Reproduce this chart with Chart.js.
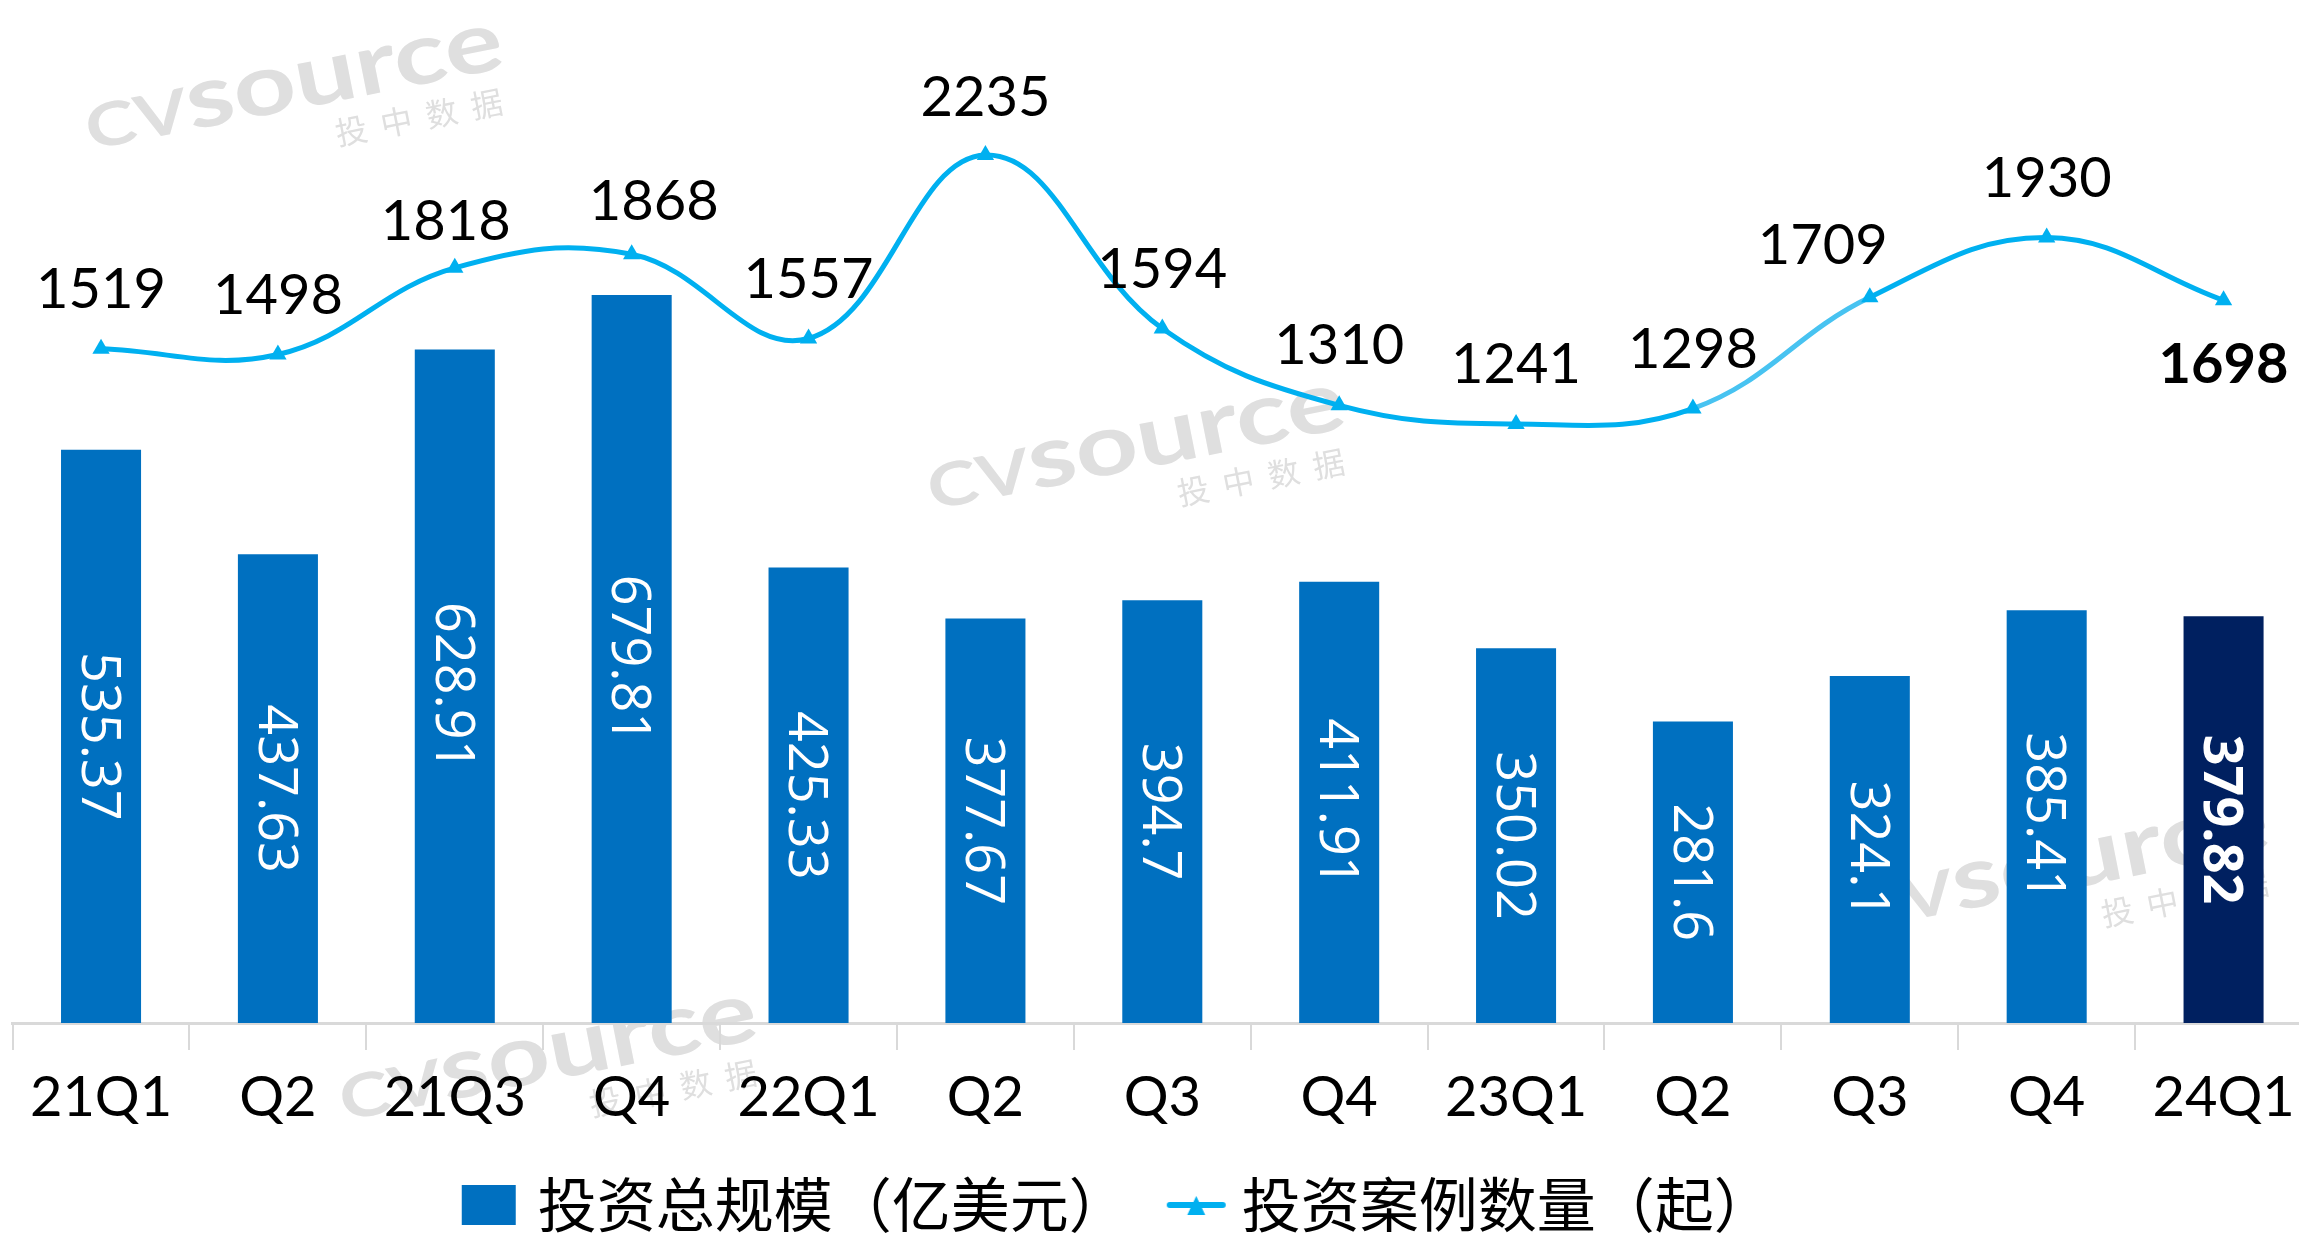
<!DOCTYPE html>
<html>
<head>
<meta charset="utf-8">
<title>投资总规模与投资案例数量</title>
<script src="https://cdn.jsdelivr.net/npm/chart.js@4.4.1/dist/chart.umd.min.js"></script>
<style>
  html, body { margin: 0; padding: 0; background: #fff; overflow: hidden; }
  #wrap { position: relative; width: 2299px; height: 1239px; overflow: hidden; }
  /* the plot runs a little past the right edge, as in the original crop */
  #chart { position: absolute; left: -100px; top: 0; }
</style>
</head>
<body>
<div id="wrap"><canvas id="chart" width="2422" height="1239"></canvas></div>
<script>
// ====== DATA ======
const quarters = ["21Q1", "Q2", "21Q3", "Q4", "22Q1", "Q2", "Q3", "Q4", "23Q1", "Q2", "Q3", "Q4", "24Q1"];
const investAmount = [535.37, 437.63, 628.91, 679.81, 425.33, 377.67, 394.7, 411.91, 350.02, 281.6, 324.1, 385.41, 379.82];
const dealCount = [1519, 1498, 1818, 1868, 1557, 2235, 1594, 1310, 1241, 1298, 1709, 1930, 1698];
const seriesNames = ["投资总规模（亿美元）", "投资案例数量（起）"];

// ====== LOOK ======
const SHIFT = 100;                      // canvas starts 100px left of the page
const barBlue = "#0070C0";
const barNavy = "#002060";
const lineBlue = "#00B0F0";
const lastIdx = quarters.length - 1;

// small nudges for a few count labels [dx, dy]
const countLabelNudge = { 2: [-9, 13], 3: [22, 7], 10: [-47, 7], 5: [0, 2] };

// watermark anchors (page px, lower left of "C")
const watermarkSpots = [[90, 150], [932, 510], [344, 1121], [1856, 931]];

function drawWatermark(ctx, x, y) {
    ctx.save();
    ctx.translate(x + SHIFT, y);
    ctx.rotate(-11.2 * Math.PI / 180);
    ctx.fillStyle = "#dfdfdf";
    ctx.textAlign = "left";
    ctx.textBaseline = "alphabetic";

    ctx.font = "bold 60px Lato";
    const wCV = ctx.measureText("CV").width;
    ctx.font = "bold 86px Lato";
    const wSrc = ctx.measureText("source").width;
    const sx = 425 / (wCV + wSrc);

    ctx.save();
    ctx.scale(sx, 1);
    ctx.font = "bold 60px Lato";
    ctx.fillText("CV", 0, 0);
    ctx.font = "bold 86px Lato";
    ctx.fillText("source", wCV, 0);
    ctx.restore();

    ctx.font = "32px 'Noto Sans CJK SC'";
    "投中数据".split("").forEach((ch, i) => ctx.fillText(ch, 244 + i * 46, 44));
    ctx.restore();
}

// legend markers
function makeSquareMarker() {
    const c = document.createElement("canvas");
    c.width = 80; c.height = 40;
    const g = c.getContext("2d");
    g.fillStyle = barBlue;
    g.fillRect(23, 0, 54, 40);
    return c;
}

function makeLineMarker() {
    const c = document.createElement("canvas");
    c.width = 100; c.height = 30;
    const g = c.getContext("2d");
    g.strokeStyle = lineBlue;
    g.lineWidth = 6;
    g.lineCap = "round";
    g.beginPath();
    g.moveTo(37, 15);
    g.lineTo(90, 15);
    g.stroke();
    g.fillStyle = lineBlue;
    g.beginPath();
    g.moveTo(63.5, 6);
    g.lineTo(72.5, 25);
    g.lineTo(54.5, 25);
    g.closePath();
    g.fill();
    return c;
}

const squareMarker = makeSquareMarker();
const lineMarker = makeLineMarker();

// ====== LABELS + WATERMARK PLUGIN ======
const labelPlugin = {
    id: "valueLabels",
    beforeDraw(chart) {
        watermarkSpots.forEach(p => drawWatermark(chart.ctx, p[0], p[1]));
    },
    afterDatasetsDraw(chart) {
        const ctx = chart.ctx;

        // bar values, rotated inside the bars
        chart.getDatasetMeta(0).data.forEach((bar, i) => {
            const isLast = i === lastIdx;
            const fs = 54;
            ctx.save();
            ctx.translate(bar.x, (bar.y + bar.base) / 2);
            ctx.rotate(Math.PI / 2);
            ctx.font = (isLast ? "bold " : "") + fs + "px 'Open Sans'";
            ctx.fillStyle = "#fff";
            ctx.textAlign = "center";
            ctx.textBaseline = "alphabetic";
            ctx.fillText(String(investAmount[i]), 0, fs * 0.357);
            ctx.restore();
        });

        // deal counts above the line (last one below, bold)
        chart.getDatasetMeta(1).data.forEach((pt, i) => {
            const isLast = i === lastIdx;
            const fs = 56;
            const nudge = countLabelNudge[i] || [0, 0];
            const cy = isLast ? pt.y + 63 : pt.y - 61 + nudge[1];
            ctx.save();
            ctx.font = (isLast ? "bold " : "") + fs + "px Lato";
            ctx.fillStyle = "#000";
            ctx.textAlign = "center";
            ctx.textBaseline = "alphabetic";
            ctx.fillText(String(dealCount[i]), pt.x + nudge[0], cy + fs * 0.36);
            ctx.restore();
        });
    }
};

// ====== CHART ======
const ctx = document.getElementById("chart").getContext("2d");
new Chart(ctx, {
    type: "bar",
    data: {
        labels: quarters,
        datasets: [
            {
                type: "bar",
                label: seriesNames[0],
                data: investAmount,
                yAxisID: "y",
                order: 2,
                backgroundColor: investAmount.map((v, i) => i === lastIdx ? barNavy : barBlue),
                barPercentage: 0.4525,
                categoryPercentage: 1
            },
            {
                type: "line",
                label: seriesNames[1],
                data: dealCount,
                yAxisID: "y1",
                order: 1,
                borderColor: lineBlue,
                borderWidth: 5,
                tension: 0.4,
                pointStyle: "triangle",
                pointRadius: 10,
                pointBorderWidth: 0,
                pointBackgroundColor: lineBlue,
                segment: {
                    borderColor: c => c.p0DataIndex === 9 ? "#48C3F1" : undefined
                }
            }
        ]
    },
    options: {
        responsive: false,
        animation: false,
        devicePixelRatio: 1,
        layout: { padding: { top: 80, bottom: -5.5, left: 0, right: 0 } },
        plugins: {
            tooltip: { enabled: false },
            legend: {
                position: "bottom",
                labels: {
                    usePointStyle: true,
                    pointStyleWidth: 59,
                    padding: 25.5,
                    color: "#000",
                    font: { family: "'Noto Sans CJK SC'", size: 59 },
                    generateLabels: () => [
                        { text: seriesNames[0], pointStyle: squareMarker, fillStyle: barBlue, strokeStyle: barBlue, lineWidth: 0, datasetIndex: 0, hidden: false },
                        { text: seriesNames[1], pointStyle: lineMarker, fillStyle: lineBlue, strokeStyle: lineBlue, lineWidth: 0, datasetIndex: 1, hidden: false }
                    ]
                }
            }
        },
        scales: {
            x: {
                grid: { offset: true, drawOnChartArea: false, drawTicks: true, tickLength: 27, color: "#D9D9D9", lineWidth: 2 },
                border: { display: true, color: "#D9D9D9", width: 3 },
                ticks: { color: "#000", font: { family: "Lato", size: 56 }, padding: 14, maxRotation: 0, autoSkip: false },
                afterFit: s => { s.height = 127; }
            },
            y: {
                position: "left",
                min: 0,
                max: 880.5,
                grid: { display: false },
                ticks: { display: false },
                border: { display: false },
                afterFit: s => { s.width = 112.6; }
            },
            y1: {
                position: "right",
                min: -972.7,
                max: 2512.2,
                grid: { display: false },
                ticks: { display: false },
                border: { display: false },
                afterFit: s => { s.width = 10; }
            }
        }
    },
    plugins: [labelPlugin]
});
</script>
</body>
</html>
